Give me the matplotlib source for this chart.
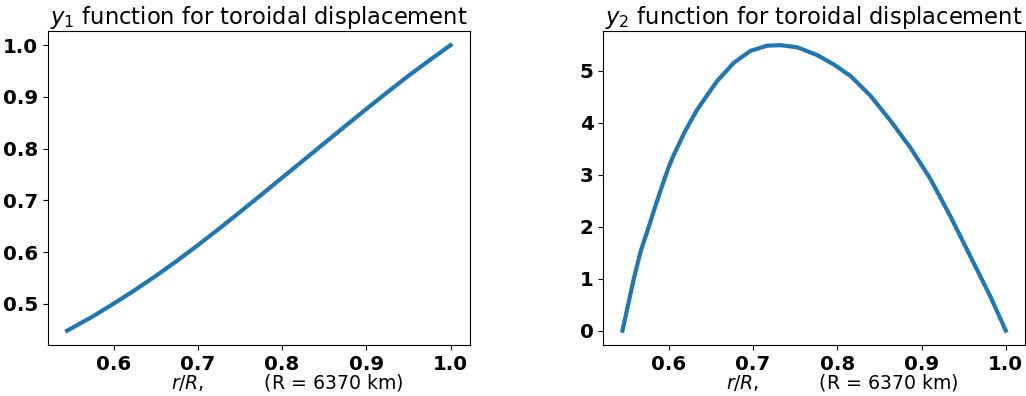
import matplotlib
matplotlib.use("Agg")
import matplotlib.pyplot as plt

# values
r1 = [0.545, 0.575, 0.6, 0.625, 0.65, 0.675, 0.7, 0.725, 0.75, 0.775, 0.8,
      0.825, 0.85, 0.875, 0.9, 0.925, 0.95, 0.975, 1.0]
y1 = [0.4485, 0.4755, 0.5005, 0.5265, 0.554, 0.583, 0.6135, 0.645, 0.6775, 0.7105,
      0.7438, 0.777, 0.8103, 0.8436, 0.8766, 0.909, 0.9408, 0.9708, 1.0]

r2 = [0.545, 0.5585, 0.5665, 0.5763, 0.585, 0.5941, 0.6, 0.6059, 0.6198, 0.6337,
      0.6495, 0.6574, 0.6771, 0.6969, 0.7167, 0.7325, 0.7523, 0.776, 0.7957,
      0.8155, 0.8392, 0.863, 0.8867, 0.9104, 0.9342, 0.9579, 0.9816, 1.0]
y2 = [0.0, 1.0, 1.52, 2.0, 2.44, 2.88, 3.15, 3.38, 3.85, 4.25,
      4.62, 4.80, 5.15, 5.38, 5.48, 5.49, 5.45, 5.30, 5.12,
      4.90, 4.52, 4.04, 3.52, 2.92, 2.20, 1.43, 0.66, 0.0]

xlabel = "$r/R$,          (R = 6370 km)"
titles = ["$y_1$ function for toroidal displacement",
          "$y_2$ function for toroidal displacement"]

fig = plt.figure(figsize=(10.26, 3.96), dpi=100)
ax1 = fig.add_axes([0.0468, 0.129, 0.411, 0.793])
ax2 = fig.add_axes([0.588, 0.129, 0.411, 0.793])

for ax, x, y, t in [(ax1, r1, y1, titles[0]), (ax2, r2, y2, titles[1])]:
    ax.plot(x, y, color="#1f77b4", linewidth=3)
    ax.set_title(t, fontsize=16.3, pad=5)
    ax.set_xlabel(xlabel, fontsize=13.6)
    ax.xaxis.set_label_coords(0.566, -0.085)
    ax.set_xticks([0.6, 0.7, 0.8, 0.9, 1.0])

ax1.set_yticks([0.5, 0.6, 0.7, 0.8, 0.9, 1.0])
ax2.set_yticks([0, 1, 2, 3, 4, 5])
for ax in (ax1, ax2):
    for lab in ax.get_xticklabels() + ax.get_yticklabels():
        lab.set_fontweight("bold")
        lab.set_fontsize(14.3)

fig.savefig("out.png", dpi=100)
